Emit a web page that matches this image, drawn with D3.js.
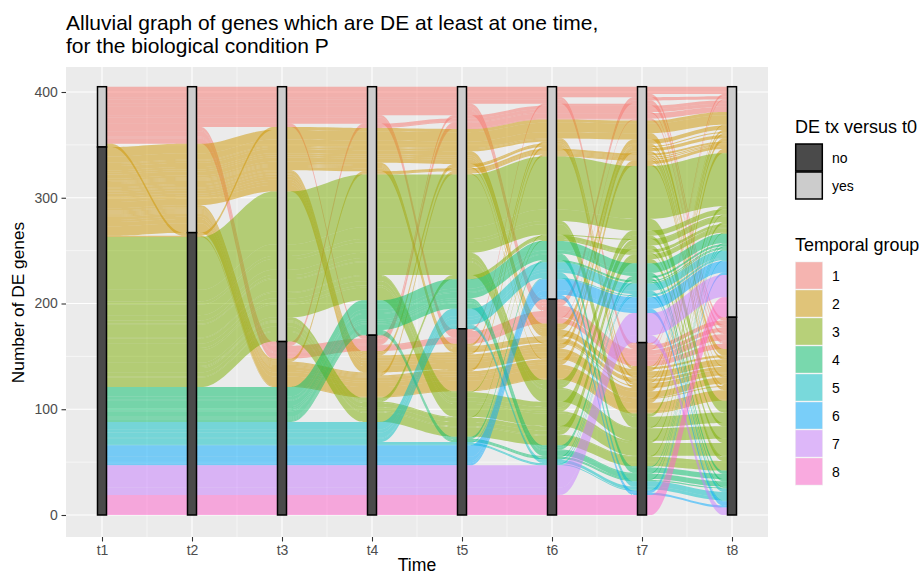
<!DOCTYPE html>
<html><head><meta charset="utf-8">
<script src="https://cdn.jsdelivr.net/npm/d3@7"></script>
<style>html,body{margin:0;padding:0;background:#fff}svg{display:block}text{font-family:"Liberation Sans",Arial,sans-serif}</style>
</head><body><svg id="c" width="919" height="575"></svg>
<script>
const times = ["t1","t2","t3","t4","t5","t6","t7","t8"];
const yTicks = [0,100,200,300,400];
const groupLabels = ["1","2","3","4","5","6","7","8"];
const groupColors = ["#F8766D","#CD9600","#7CAE00","#00BE67","#00BFC4","#00A9FF","#C77CFF","#FF61CC"];
const stateLabels = ["no","yes"];
const stateColors = ["#4A4A4A","#CCCCCC"];
// Gene trajectories per temporal group: pattern over t1..t8 (Y = DE versus t0) and number of genes
const group1 = [["YYYYYYYY",7],["YYYYYYYN",3],["YYYYYYNY",2],["YYYYYYNN",4],["YYYYYNYY",3],["YYYYYNYN",3],["YYYYYNNY",1],["YYYYYNNN",4],["YYYYNYYN",2],["YYYYNNNN",6],["YYYNYYYY",3],["YYNYYYYY",3],["YYNYYYYN",1],["YYNNYYYY",5],["YYNNYYYN",1],["YYNNNNNN",5],["YYNNNNYN",1]];
const group2 = [["YNYYYYYY",3],["NYYYYYYY",9],["NYYYYYYN",6],["NYYYYYNY",1],["NYYYYYNN",2],["NYYYNYNN",2],["NYYNYYNY",1],["NYYNYYNN",2],["NYYNNYNN",2],["NYNYYYYY",2],["NYNYYYYN",1],["NYNNYYYY",1],["NYNNYYYN",1],["NYNNNYYY",1],["NYNNNYYN",1],["NYYYYNYY",4],["NYYYYNYN",2],["NYYYYNNY",2],["NYYYYNNN",4],["NYYYNNYY",1],["NYYYNNYN",1],["NYYYNNNY",1],["NYYYNNNN",3],["NYYNYNNN",1],["NYYNNNYY",3],["NYYNNNYN",2],["NYYNNNNY",3],["NYYNNNNN",6],["NYNNYNNN",1],["NYNNNNYY",3],["NYNNNNYN",2],["NYNNNNNY",4],["NYNNNNNN",9],["NNNNNNNN",1]];
const group3 = [["NNYYYYYY",50],["NNYYYYYN",11],["NNYYYYNY",3],["NNYYYYNN",10],["NNYYYNYY",5],["NNYYYNYN",3],["NNYYYNNY",1],["NNYYYNNN",12],["NNYYNYYY",1],["NNYYNNYY",5],["NNYYNNYN",4],["NNYYNNNY",2],["NNYYNNNN",12],["NNYNYYYY",3],["NNYNYYYN",1],["NNYNNYYY",1],["NNYNNNYY",4],["NNYNNNYN",4],["NNYNNNNY",1],["NNYNNNNN",9]];
const group4 = [["NNNYYYYY",9],["NNNYYYYN",3],["NNNYYYNY",1],["NNNYYYNN",5],["NNNYYNYY",2],["NNNYYNYN",2],["NNNYYNNY",1],["NNNYYNNN",5],["NNNYNYYY",1],["NNNYNYYN",1],["NNNYNNYY",1],["NNNYNNNY",1],["NNNYNNNN",1]];
const group5 = [["NNNNYYYY",7],["NNNNYYYN",3],["NNNNYYNN",5],["NNNNYNYY",1],["NNNNYNNN",3],["NNNNNYYY",1],["NNNNNNYN",1],["NNNNNNNY",1]];
const group6 = [["NNNNNYYY",11],["NNNNNYYN",4],["NNNNNYNY",2],["NNNNNYNN",2]];
const group7 = [["NNNNNNYY",21],["NNNNNNYN",7]];
const group8 = [["NNNNNNNY",19]];
const allGroups = [group1,group2,group3,group4,group5,group6,group7,group8];

const svg = d3.select("#c");
const P = {l:66,r:768,t:67,b:537};
const x = d3.scaleLinear().domain([0,7]).range([102,732]);
const y = d3.scaleLinear().domain([0,400]).range([515,92]);
const halfW = 4.5, knot = 0.25;

svg.append("rect").attr("x",P.l).attr("y",P.t).attr("width",P.r-P.l).attr("height",P.b-P.t).attr("fill","#EBEBEB");
const grid = svg.append("g").attr("stroke","#fff").attr("fill","none");
d3.range(50,500,100).forEach(v=>{ if(y(v)>P.t) grid.append("line").attr("x1",P.l).attr("x2",P.r).attr("y1",y(v)).attr("y2",y(v)).attr("stroke-width",0.55);});
d3.range(0.5,7.5,1).forEach(v=>grid.append("line").attr("y1",P.t).attr("y2",P.b).attr("x1",x(v)).attr("x2",x(v)).attr("stroke-width",0.55));
yTicks.forEach(v=>grid.append("line").attr("x1",P.l).attr("x2",P.r).attr("y1",y(v)).attr("y2",y(v)).attr("stroke-width",1.1));
times.forEach((t,i)=>grid.append("line").attr("y1",P.t).attr("y2",P.b).attr("x1",x(i)).attr("x2",x(i)).attr("stroke-width",1.1));

// one ribbon per trajectory, stacked on every axis
const tracks = [];
allGroups.forEach((g,gi)=>g.forEach(([pat,n])=>tracks.push({g:gi,pat,n,lo:[],hi:[]})));
const rank = c => c==="Y"?0:1;
const cmpPat = (a,b)=>{ for(let i=0;i<a.length;i++){ const d=rank(a[i])-rank(b[i]); if(d) return d; } return 0; };
const totals = [];
times.forEach((t,ti)=>{
  const ord = tracks.slice().sort((a,b)=> rank(a.pat[ti])-rank(b.pat[ti]) || a.g-b.g || cmpPat(a.pat,b.pat));
  let v = d3.sum(ord,d=>d.n);
  const n = v;
  let yesCount = 0;
  ord.forEach(d=>{ d.hi[ti]=v; d.lo[ti]=v-d.n; v-=d.n; if(d.pat[ti]==="Y") yesCount+=d.n; });
  totals.push({yes:yesCount,no:n-yesCount,n});
});

const line = d3.line().curve(d3.curveBasis);
function spline(x0,v0,x1,v1){
  const k=(x1-x0)*knot;
  return [[x0,y(v0)],[x0+k,y(v0)],[x1-k,y(v1)],[x1,y(v1)]];
}
const flows = svg.append("g");
tracks.forEach(d=>{
  for(let i=0;i<7;i++){
    const a=x(i)+halfW,b=x(i+1)-halfW;
    const top=spline(a,d.hi[i],b,d.hi[i+1]);
    const bot=spline(b,d.lo[i+1],a,d.lo[i]);
    flows.append("path").attr("d",line(top)+line(bot).replace(/^M/,"L")+"Z")
      .attr("fill",groupColors[d.g]).attr("fill-opacity",0.5);
  }
});
const strata = svg.append("g").attr("stroke","#000").attr("stroke-width",1.5);
totals.forEach((s,i)=>{
  strata.append("rect").attr("x",x(i)-halfW).attr("width",halfW*2).attr("y",y(s.n)).attr("height",y(s.no)-y(s.n)).attr("fill",stateColors[1]);
  strata.append("rect").attr("x",x(i)-halfW).attr("width",halfW*2).attr("y",y(s.no)).attr("height",y(0)-y(s.no)).attr("fill",stateColors[0]);
});

const yAxis = d3.axisLeft(y).tickValues(yTicks).tickSize(4.5).tickPadding(3.6);
const gy = svg.append("g").attr("transform",`translate(${P.l},0)`).call(yAxis);
const xAxis = d3.axisBottom(x).tickValues(d3.range(8)).tickFormat(i=>times[i]).tickSize(4.5).tickPadding(3.6);
const gx = svg.append("g").attr("transform",`translate(0,${P.b})`).call(xAxis);
[gy,gx].forEach(g=>{ g.select(".domain").remove(); g.selectAll("line").attr("stroke","#333").attr("stroke-width",1.1);
  g.selectAll("text").attr("fill","#4D4D4D").attr("font-size",14).attr("font-family","Liberation Sans"); });

const txt=(s,px,py,fs,o={})=>svg.append("text").text(s).attr("x",px).attr("y",py).attr("font-size",fs).attr("fill",o.fill||"#000").attr("text-anchor",o.anchor||"start").attr("transform",o.tr||null);
txt("Alluvial graph of genes which are DE at least at one time,",66,30,21);
txt("for the biological condition P",66,53,21);
txt("Time",417,570.5,17.6,{anchor:"middle"});
txt("Number of DE genes",0,0,17.3,{anchor:"middle",tr:"translate(24,302.5) rotate(-90)"});

txt("DE tx versus t0",795,133,18);
const keyY0=144,keyH=28;
[0,1].forEach(i=>{
  svg.append("rect").attr("x",795.7).attr("y",keyY0+i*keyH).attr("width",26.6).attr("height",keyH-1).attr("fill",stateColors[i]).attr("stroke","#000").attr("stroke-width",1.5);
  txt(stateLabels[i],832,keyY0+i*keyH+19,14);
});
txt("Temporal group",795,251,17.9);
const gY0=261.5;
groupLabels.forEach((l,i)=>{
  svg.append("rect").attr("x",795).attr("y",gY0+i*keyH).attr("width",28).attr("height",keyH).attr("fill","#F2F2F2");
  svg.append("rect").attr("x",795.7).attr("y",gY0+i*keyH+.7).attr("width",26.6).attr("height",keyH-1.4).attr("fill",groupColors[i]).attr("fill-opacity",0.5);
  txt(l,832,gY0+i*keyH+19,14);
});
</script></body></html>
